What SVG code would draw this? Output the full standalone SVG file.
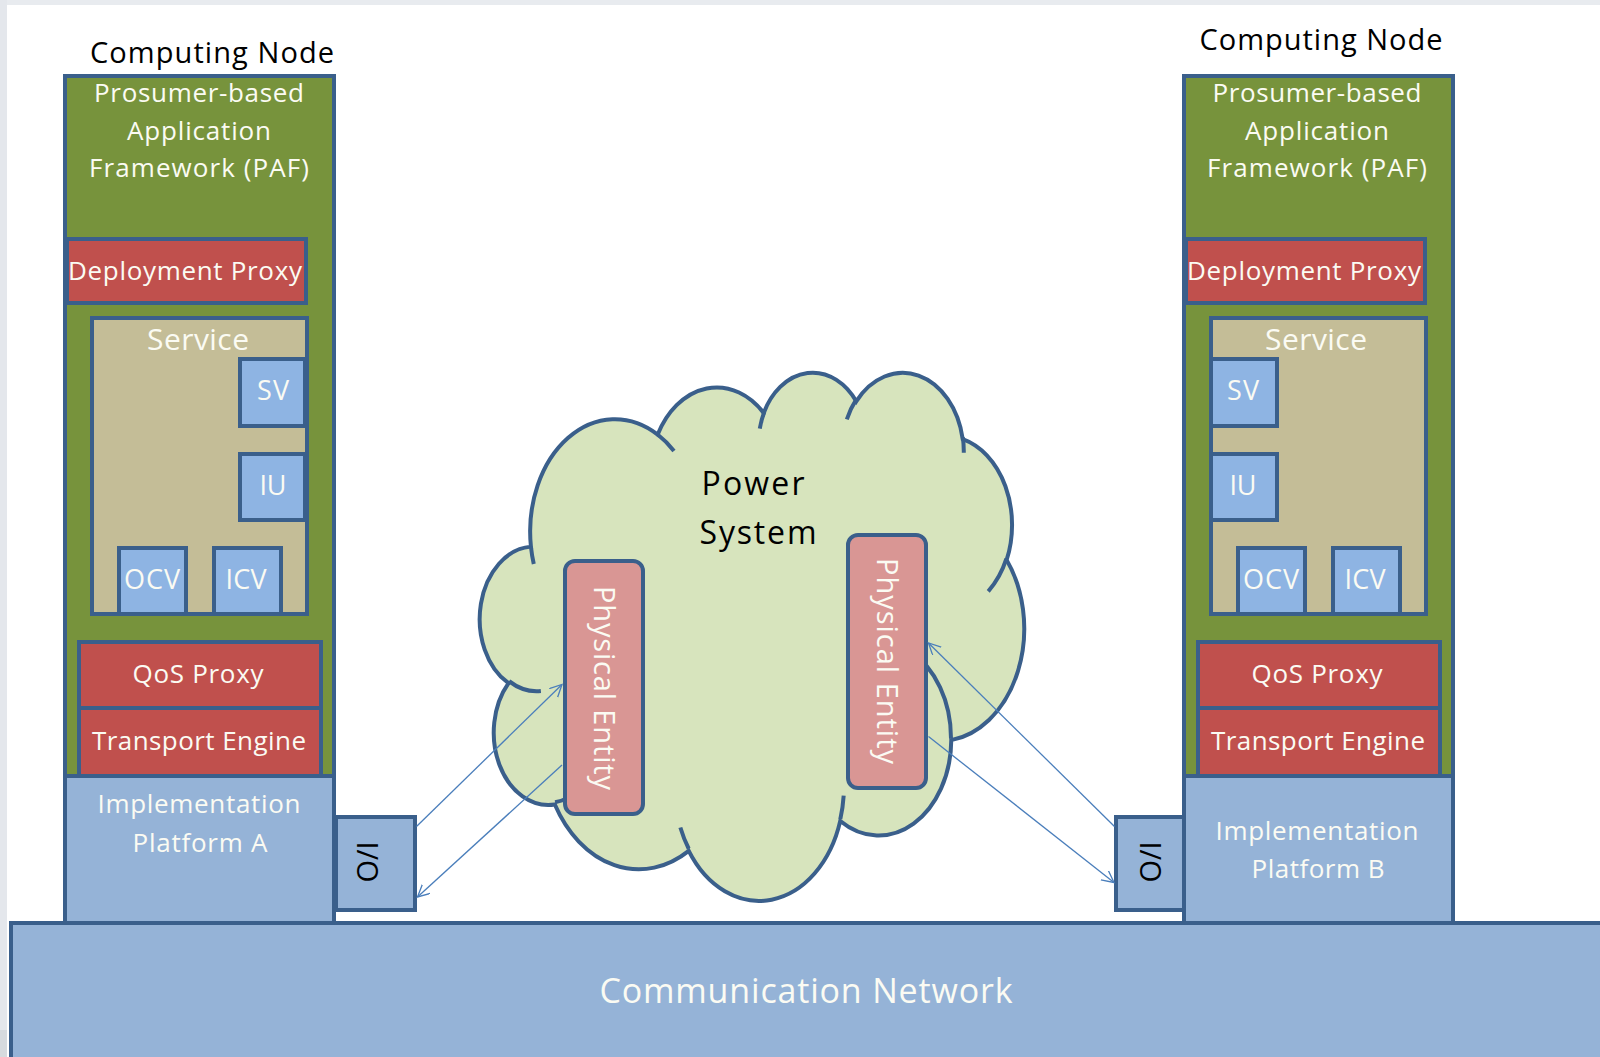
<svg xmlns="http://www.w3.org/2000/svg" width="1600" height="1057" viewBox="0 0 1600 1057">
  <defs>
    <style>
      .bx { stroke: #3a5f8b; stroke-width: 4; }
      .grn { fill: #77933c; }
      .red { fill: #c0504d; }
      .tan { fill: #c4bd97; }
      .sv { fill: #8eb4e3; }
      .blu { fill: #95b3d7; }
      .pe { fill: #d99694; }
      text { font-family: "Open Sans", "Liberation Sans", sans-serif; text-anchor: middle; font-size: 26px; }
      .wt { fill: #fbfbf3; }
      .dk { fill: #000000; }
      .s27 { font-size: 27px; }
      .s29 { font-size: 29px; }
      .s30 { font-size: 30px; }
      .s32 { font-size: 32px; }
      .s34 { font-size: 34px; }
      .con { stroke: #4a7ebb; stroke-width: 1.3; fill: none; marker-end: url(#arr); }
    </style>
    <marker id="arr" markerUnits="userSpaceOnUse" markerWidth="16" markerHeight="16" refX="12" refY="6" orient="auto">
      <path d="M0,0 L12,6 L0,12" fill="none" stroke="#4a7ebb" stroke-width="1.3"/>
    </marker>
  </defs>

  <!-- page background -->
  <rect x="0" y="0" width="1600" height="1057" fill="#ffffff"/>
  <rect x="0" y="0" width="1600" height="5" fill="#e8ebef"/>
  <rect x="0" y="0" width="7" height="1057" fill="#e4e7ec"/>
  <rect x="0" y="1030" width="7" height="27" fill="#d6dade"/>

  <!-- communication network base -->
  <g id="communication-network">
    <rect class="bx blu" x="11" y="923" width="1600" height="160"/>
    <text class="wt s34" x="806" y="1003" textLength="413">Communication Network</text>
  </g>

  <!-- left computing node -->
  <g id="node-left">
    <text class="dk s29" x="212" y="63" textLength="244">Computing Node</text>
    <rect class="bx grn" x="65" y="76" width="269" height="700"/>
    <text class="wt" x="199" y="102" textLength="210">Prosumer-based</text>
    <text class="wt" x="199" y="140" textLength="144">Application</text>
    <text class="wt" x="199" y="177" textLength="220">Framework (PAF)</text>
    <g id="deploy-left">
      <rect class="bx red" x="67" y="239" width="239" height="64"/>
      <text class="wt" x="185" y="280" textLength="234">Deployment Proxy</text>
    </g>
    <g id="service-left">
      <rect class="bx tan" x="92" y="318" width="215" height="296"/>
      <text class="wt s30" x="198" y="350" textLength="102">Service</text>
      <rect class="bx sv" x="240" y="359" width="65" height="67"/>
      <text class="wt s27" x="273" y="400" textLength="32">SV</text>
      <rect class="bx sv" x="240" y="454" width="65" height="66"/>
      <text class="wt s27" x="273" y="495" textLength="27">IU</text>
      <rect class="bx sv" x="119" y="548" width="67" height="66"/>
      <text class="wt s27" x="152" y="589" textLength="56">OCV</text>
      <rect class="bx sv" x="214" y="548" width="67" height="66"/>
      <text class="wt s27" x="246" y="589" textLength="41">ICV</text>
    </g>
    <g id="qos-left">
      <rect class="bx red" x="79" y="642" width="242" height="66"/>
      <text class="wt" x="198" y="683" textLength="131">QoS Proxy</text>
    </g>
    <g id="transport-left">
      <rect class="bx red" x="79" y="708" width="242" height="68"/>
      <text class="wt" x="199" y="750" textLength="214">Transport Engine</text>
    </g>
    <g id="platform-a">
      <rect class="bx blu" x="65" y="776" width="269" height="147"/>
      <text class="wt" x="199" y="813" textLength="203">Implementation</text>
      <text class="wt" x="200" y="852" textLength="135">Platform A</text>
    </g>
    <g id="io-left">
      <rect class="bx blu" x="336" y="817" width="79" height="93"/>
      <text class="dk s29" x="357" y="862" textLength="41" transform="rotate(90 357 862)">I/O</text>
    </g>
  </g>

  <!-- right computing node -->
  <g id="node-right">
    <text class="dk s29" x="1321" y="50" textLength="243">Computing Node</text>
    <rect class="bx grn" x="1184" y="76" width="269" height="700"/>
    <text class="wt" x="1317" y="102" textLength="209">Prosumer-based</text>
    <text class="wt" x="1317" y="140" textLength="144">Application</text>
    <text class="wt" x="1317" y="177" textLength="220">Framework (PAF)</text>
    <g id="deploy-right">
      <rect class="bx red" x="1186" y="239" width="239" height="64"/>
      <text class="wt" x="1304" y="280" textLength="234">Deployment Proxy</text>
    </g>
    <g id="service-right">
      <rect class="bx tan" x="1211" y="318" width="215" height="296"/>
      <text class="wt s30" x="1316" y="350" textLength="102">Service</text>
      <rect class="bx sv" x="1211" y="359" width="66" height="67"/>
      <text class="wt s27" x="1243" y="400" textLength="32">SV</text>
      <rect class="bx sv" x="1211" y="454" width="66" height="66"/>
      <text class="wt s27" x="1243" y="495" textLength="27">IU</text>
      <rect class="bx sv" x="1238" y="548" width="67" height="66"/>
      <text class="wt s27" x="1271" y="589" textLength="56">OCV</text>
      <rect class="bx sv" x="1333" y="548" width="67" height="66"/>
      <text class="wt s27" x="1365" y="589" textLength="41">ICV</text>
    </g>
    <g id="qos-right">
      <rect class="bx red" x="1198" y="642" width="242" height="66"/>
      <text class="wt" x="1317" y="683" textLength="131">QoS Proxy</text>
    </g>
    <g id="transport-right">
      <rect class="bx red" x="1198" y="708" width="242" height="68"/>
      <text class="wt" x="1318" y="750" textLength="214">Transport Engine</text>
    </g>
    <g id="platform-b">
      <rect class="bx blu" x="1184" y="776" width="269" height="147"/>
      <text class="wt" x="1317" y="840" textLength="203">Implementation</text>
      <text class="wt" x="1318" y="878" textLength="133">Platform B</text>
    </g>
    <g id="io-right">
      <rect class="bx blu" x="1116" y="817" width="68" height="93"/>
      <text class="dk s29" x="1140" y="862" textLength="41" transform="rotate(90 1140 862)">I/O</text>
    </g>
  </g>

  <!-- power system cloud -->
  <g id="power-system">
    <path class="bx" fill="#d7e4bd" d="M530.93,546.63 A84.73,112.32 0 0 1 657.69,434.57 A66.91,88.82 0 0 1 763.72,412.93 A54.76,72.66 0 0 1 856.27,401.31 A60.94,80.60 0 0 1 962.73,439.14 A66.91,88.89 0 0 1 1006.65,559.93 A85.00,112.69 0 0 1 951.27,740.13 A72.58,96.15 0 0 1 840.25,820.92 A84.71,112.63 0 0 1 688.75,850.88 A96.86,128.86 0 0 1 554.82,804.50 A54.70,72.33 0 0 1 508.50,683.24 A54.51,72.66 0 0 1 530.93,546.63 Z"/>
    <path class="bx" fill="none" d="M540.88,690.94 A54.51,72.66 0 0 1 509.10,681.20 M568.92,797.54 A54.70,72.33 0 0 1 555.02,802.21 M688.74,848.77 A84.71,112.63 0 0 1 680.36,827.50 M843.68,795.73 A84.71,112.63 0 0 1 840.33,819.07 M910.20,651.55 A72.58,96.15 0 0 1 950.98,738.76 M1006.41,558.66 A66.91,88.89 0 0 1 988.24,591.36 M962.83,437.32 A60.94,80.60 0 0 1 963.79,452.76 M846.82,419.30 A60.94,80.60 0 0 1 856.13,399.61 M759.79,428.69 A54.76,72.66 0 0 1 764.30,411.70 M657.65,434.46 A84.73,112.32 0 0 1 673.97,450.95 M533.78,563.98 A84.73,112.32 0 0 1 530.93,546.63"/>
    <text class="dk s32" x="753" y="495" textLength="103">Power</text>
    <text class="dk s32" x="758" y="544" textLength="117">System</text>
  </g>

  <g id="entity-left">
    <rect class="bx pe" x="565" y="561" width="78" height="253" rx="10"/>
    <text class="wt s29" x="594" y="688" textLength="204" transform="rotate(90 594 688)">Physical Entity</text>
  </g>
  <g id="entity-right">
    <rect class="bx pe" x="848" y="535" width="78" height="253" rx="10"/>
    <text class="wt s29" x="877" y="661" textLength="206" transform="rotate(90 877 661)">Physical Entity</text>
  </g>

  <!-- connectors between I/O ports and physical entities -->
  <g id="connectors">
    <line class="con" x1="416.5" y1="826.5" x2="562" y2="684.5"/>
    <line class="con" x1="562" y1="765" x2="417.5" y2="897"/>
    <line class="con" x1="1114.5" y1="826.5" x2="928.5" y2="643"/>
    <line class="con" x1="928.5" y1="736.5" x2="1114" y2="882.5"/>
  </g>
</svg>
